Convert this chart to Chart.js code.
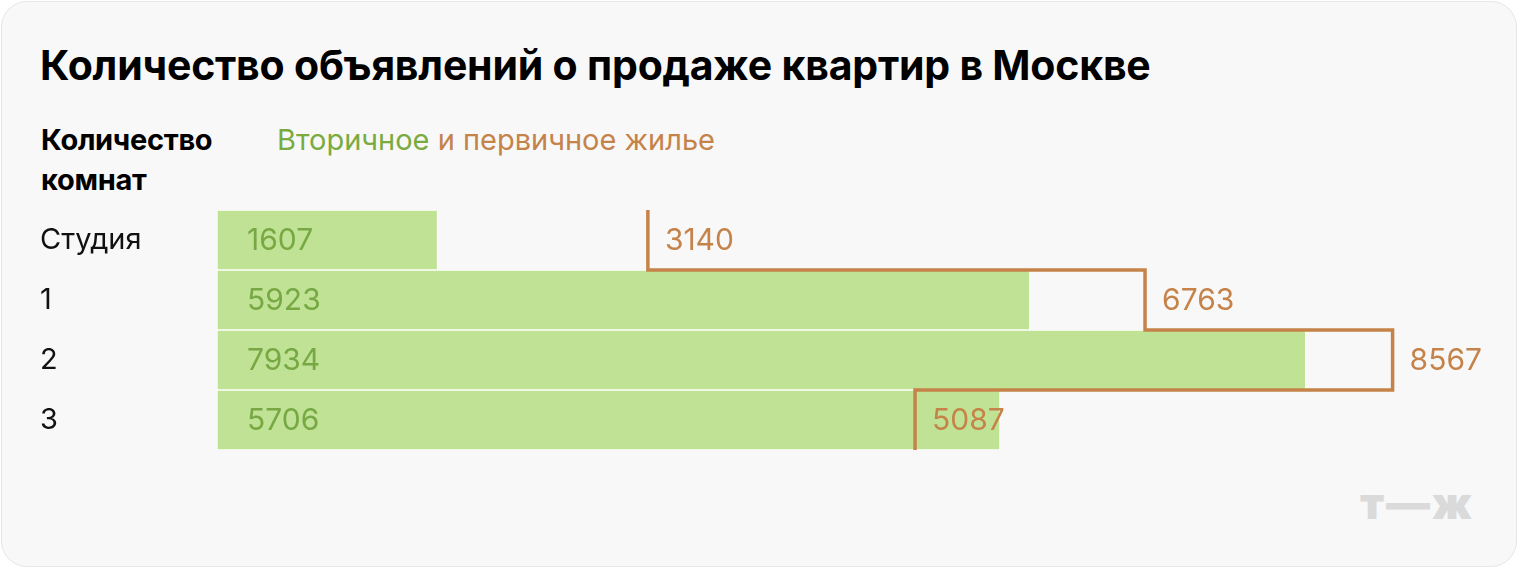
<!DOCTYPE html>
<html lang="ru">
<head>
<meta charset="utf-8">
<script src="https://cdn.jsdelivr.net/npm/chart.js@4/dist/chart.umd.min.js"></script>
<style>
  html, body { margin: 0; padding: 0; background: #fff; }
  body { width: 1520px; height: 570px; position: relative; overflow: hidden; font-family: Inter, "Noto Sans", sans-serif; }
  .card { position: absolute; left: 1px; top: 1px; width: 1516px; height: 566px; background: #f8f8f8;
          border: 1px solid #e6e6e6; border-radius: 26px; box-sizing: border-box; }
  .title { position: absolute; left: 40px; top: 40px; margin: 0; font-size: 41px; line-height: 50px; font-weight: 700; color: #000; white-space: nowrap; letter-spacing: -0.2px; }
  .head { position: absolute; left: 41px; top: 120px; font-size: 29px; font-weight: 700; line-height: 40px; color: #000; letter-spacing: -0.3px; }
  .legend { position: absolute; left: 277px; top: 120px; font-size: 29px; line-height: 40px; white-space: nowrap; }
  .logo { position: absolute; left: 1360px; top: 476px; font-size: 44px; font-weight: 900; color: #dadada; letter-spacing: 2px; }
  canvas { position: absolute; left: 0; top: 0; }
</style>
</head>
<body>
<div class="card"></div>
<h1 class="title">Количество объявлений о продаже квартир в Москве</h1>
<div class="head">Количество<br>комнат</div>
<div class="legend"><span style="color:#7aab3f">Вторичное</span> <span style="color:#c5834a">и первичное жилье</span></div>
<div class="logo">т—ж</div>
<canvas id="chart" width="1520" height="570"></canvas>
<script>
const rooms = ['Студия', '1', '2', '3'];
const secondary = [1607, 5923, 7934, 5706];
const primary = [3140, 6763, 8567, 5087];

const GREEN_BAR = '#bfe295';
const GREEN_TEXT = '#78a843';
const ORANGE = '#c5834a';
const FONT = 'Inter, "Noto Sans", sans-serif';

// step line for primary listings + value labels
const stepPlugin = {
    id: 'stepLine',
    afterDatasetsDraw(chart) {
        const { ctx, scales: { x, y } } = chart;
        const band = y.getPixelForValue(1) - y.getPixelForValue(0);
        ctx.save();
        ctx.strokeStyle = ORANGE;
        ctx.lineWidth = 3.5;
        ctx.lineJoin = 'miter';
        ctx.beginPath();
        primary.forEach((v, i) => {
            const px = x.getPixelForValue(v);
            const top = y.getPixelForValue(i) - band / 2;
            const bottom = top + band;
            if (i === 0) ctx.moveTo(px, top); else ctx.lineTo(px, top);
            ctx.lineTo(px, bottom);
        });
        ctx.stroke();

        ctx.font = '30px ' + FONT;
        ctx.textBaseline = 'middle';
        ctx.textAlign = 'left';
        secondary.forEach((v, i) => {
            ctx.fillStyle = GREEN_TEXT;
            ctx.fillText(String(v), x.getPixelForValue(0) + 30, y.getPixelForValue(i) + 1);
        });
        primary.forEach((v, i) => {
            ctx.fillStyle = ORANGE;
            ctx.fillText(String(v), x.getPixelForValue(v) + 17, y.getPixelForValue(i) + 1);
        });
        ctx.restore();
    }
};

new Chart(document.getElementById('chart'), {
    type: 'bar',
    data: {
        labels: rooms,
        datasets: [{
            label: 'Вторичное',
            data: secondary,
            backgroundColor: GREEN_BAR,
            borderColor: '#ffffff',
            borderWidth: 1,
            borderSkipped: false,
            barPercentage: 1,
            categoryPercentage: 1,
        }],
    },
    options: {
        indexAxis: 'y',
        responsive: false,
        animation: false,
        layout: { padding: { left: 40, right: 68, top: 210, bottom: 120 } },
        plugins: { legend: { display: false }, tooltip: { enabled: false } },
        scales: {
            x: { display: false, min: 0, max: 9000 },
            y: {
                grid: { display: false },
                border: { display: false },
                afterFit(axis) { axis.width = 177; },
                ticks: {
                    crossAlign: 'far',
                    padding: 0,
                    color: '#111',
                    font: { family: FONT, size: 29 },
                },
            },
        },
    },
    plugins: [stepPlugin],
});
</script>
</body>
</html>
